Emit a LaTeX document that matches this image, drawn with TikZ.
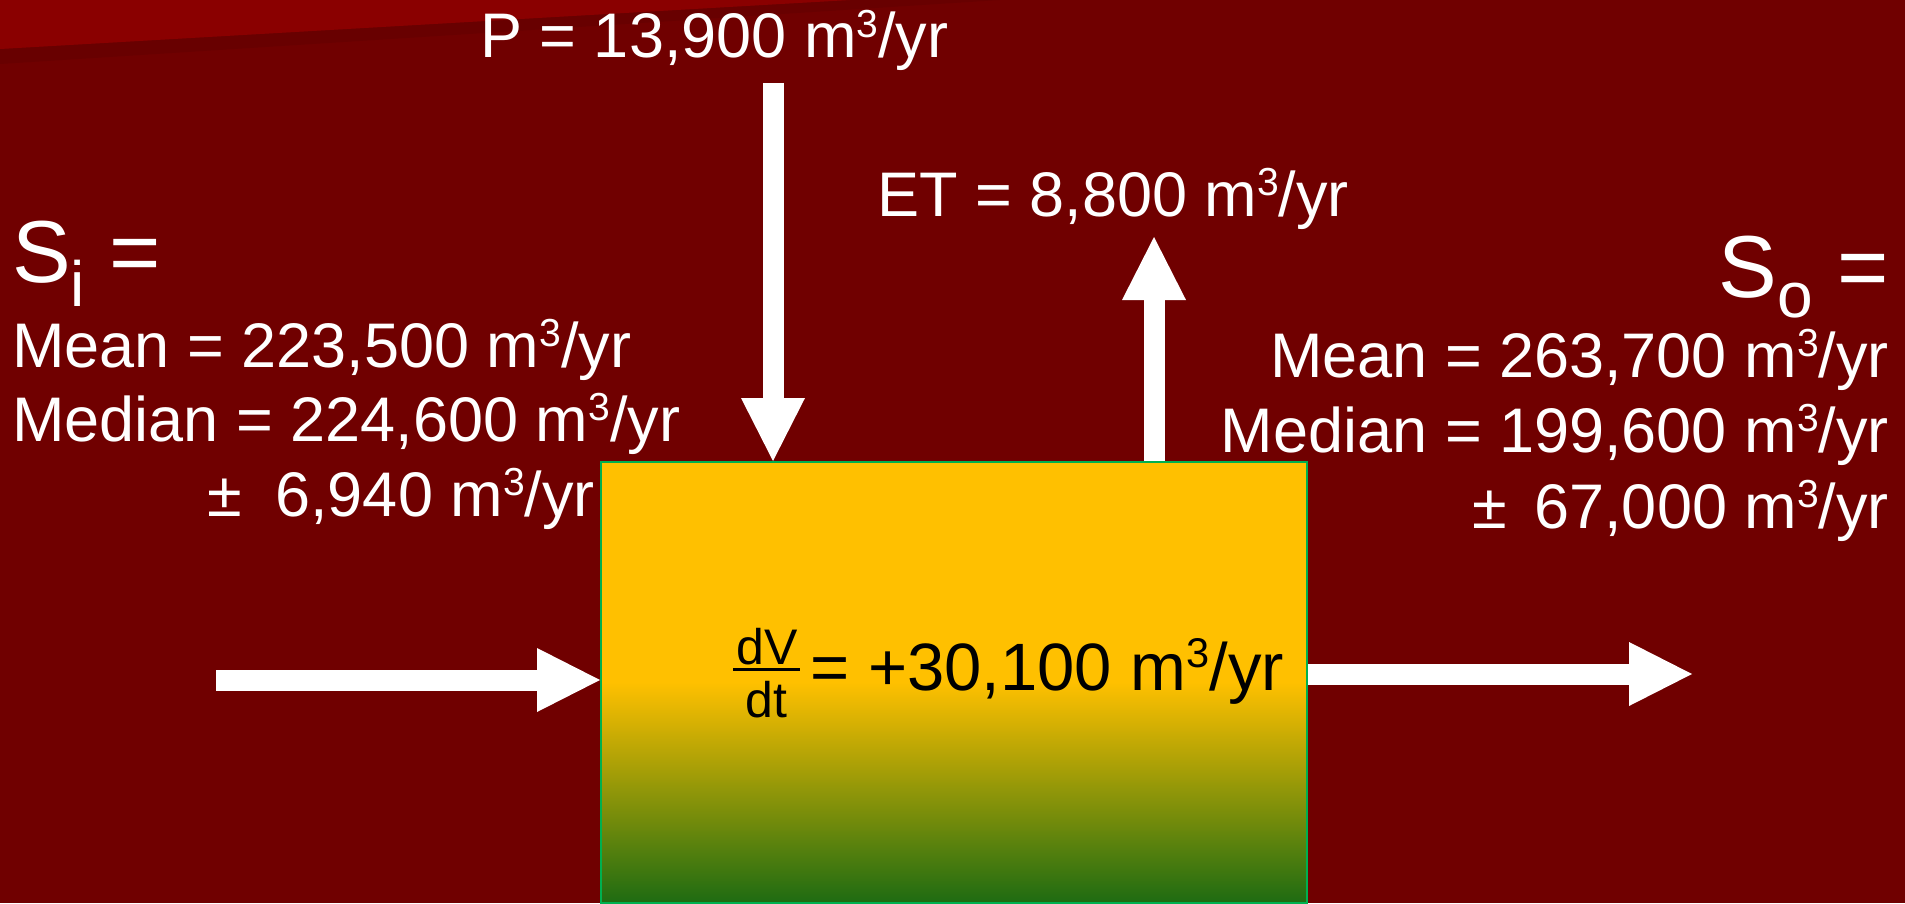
\documentclass[tikz,border=0pt]{standalone}
\usepackage{graphicx}
\usepackage{fontspec}
\setmainfont{Liberation Sans}
\usetikzlibrary{positioning,arrows.meta}

\definecolor{slidered}{HTML}{700000}
\definecolor{slidelight}{HTML}{8A0000}
\definecolor{slideshade}{HTML}{680000}
\definecolor{lakeyellow}{HTML}{FFC000}
\definecolor{lakegreen}{HTML}{1E6B12}
\definecolor{lakeedge}{HTML}{00B050}

% m^3 as on the slide
\newcommand{\cub}{\raisebox{0.33em}{\scalebox{0.62}{3}}}
% stacked ratio with a bar
\newcommand{\rateratio}[2]{\raisebox{-27pt}{\fontsize{50}{50}\selectfont
  \vbox{\halign{\kern3pt\hfil##\hfil\kern3pt\cr #1\cr
    \noalign{\kern2.5pt\hrule height 3pt\kern10pt}#2\cr}}}}

\begin{document}
\begin{tikzpicture}[
  x=1pt, y=-1pt,
  lbl/.style={inner sep=0pt, text=white, font=\fontsize{63}{70}\selectfont},
  big/.style={inner sep=0pt, text=white, font=\fontsize{88}{96}\selectfont},
  store/.style={rectangle, draw=lakeedge, line width=2pt,
    minimum width=706pt, minimum height=441pt, inner sep=0pt,
    top color=lakeyellow, bottom color=lakegreen, middle color=lakeyellow},
  flow/.style={white, line width=21pt,
    -{Triangle[length=63pt, width=64pt, line width=0pt]}}
]
% background of the slide
\fill[slidered] (0,0) rectangle (1905,903);
\fill[slideshade] (0,49) -- (850,0) -- (1000,0) -- (0,64) -- cycle;
\fill[slidelight] (0,0) -- (850,0) -- (0,49) -- cycle;

% storage box
\node[store] (box) at (954,682.5) {};
\node[inner sep=0pt, anchor=base west, font=\fontsize{67}{70}\selectfont]
  (dvdt) at (733,690) {\rateratio{dV}{dt}\kern10pt= +30,100 m\cub/yr};

% fluxes
\node[lbl, anchor=base west] (ptxt)  at (480,58)  {P = 13,900 m\cub/yr};
\node[lbl, anchor=base west] (ettxt) at (877,216) {ET = 8,800 m\cub/yr};

% surface inflow
\node[big, anchor=base west] (si) at (12,282)
  {S\raisebox{-24pt}{\fontsize{64}{64}\selectfont i} =};
\node[lbl, anchor=base west] (simean) at (12,367) {Mean = 223,500 m\cub/yr};
\node[lbl, anchor=base west] (simed)  at (12,441) {Median = 224,600 m\cub/yr};
\node[lbl, anchor=base east] (sierr)  at (595,516) {±\kern16pt\ 6,940 m\cub/yr};

% surface outflow
\node[big, anchor=base east] (so) at (1889,297)
  {S\raisebox{-20pt}{\fontsize{64}{64}\selectfont o} =};
\node[lbl, anchor=base east] (somean) at (1889,377) {Mean = 263,700 m\cub/yr};
\node[lbl, anchor=base east] (somed)  at (1889,452) {Median = 199,600 m\cub/yr};
\node[lbl, anchor=base east] (soerr)  at (1889,528) {±\kern10pt\ 67,000 m\cub/yr};

% arrows
\coordinate (pin)  at (773,83);
\coordinate (etout) at (1154,237);
\coordinate (sin)  at (216,680);
\coordinate (sout) at (1692,674);
\draw[flow] (pin) -- (pin |- box.north);
\draw[flow] (etout |- box.north) -- (etout);
\draw[flow] (sin) -- (sin -| box.west);
\draw[flow] (box.east |- sout) -- (sout);
\end{tikzpicture}
\end{document}
